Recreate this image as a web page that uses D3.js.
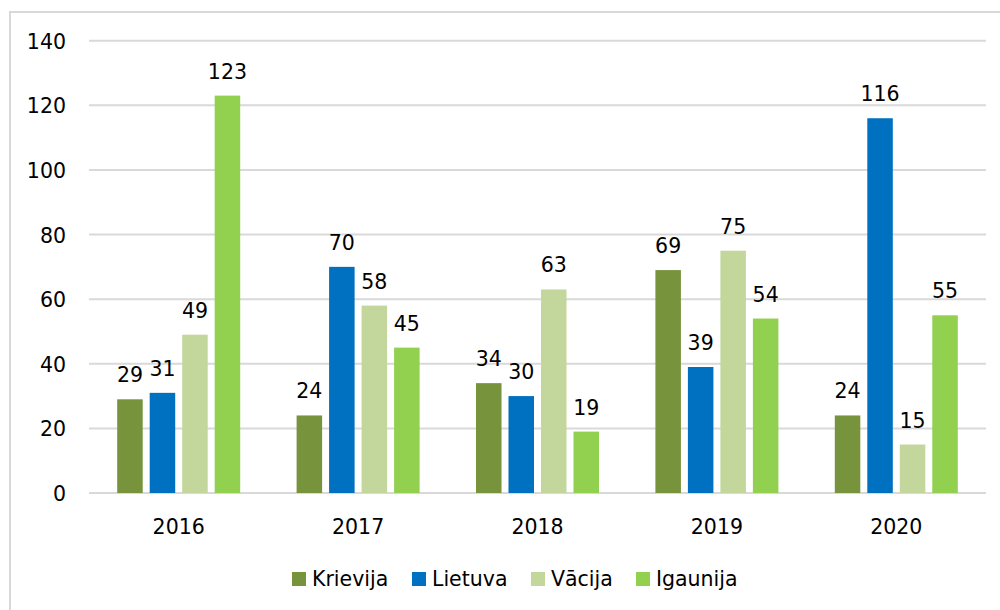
<!DOCTYPE html>
<html><head><meta charset="utf-8">
<script src="https://cdn.jsdelivr.net/npm/d3@7"></script>
<style>body{margin:0;background:#fff}svg{display:block}</style>
</head><body>
<svg id="c" width="1000" height="610"></svg>
<script>
const years = ["2016","2017","2018","2019","2020"];
const seriesNames = ["Krievija","Lietuva","Vācija","Igaunija"];
const krievija = [29,24,34,69,24];
const lietuva = [31,70,30,39,116];
const vacija = [49,58,63,75,15];
const igaunija = [123,45,19,54,55];
const colors = ["#77933C","#0070C0","#C3D69B","#92D050"];
const yTicks = [0,20,40,60,80,100,120,140];

const allSeries = [krievija, lietuva, vacija, igaunija];
const svg = d3.select("#c");
const font = "DejaVu Sans, Verdana, sans-serif";
const fs = 20.5;

svg.append("rect").attr("x",10).attr("y",12).attr("width",1000).attr("height",620)
  .attr("fill","none").attr("stroke","#d9d9d9").attr("stroke-width",2);

const left=89, right=986, y0=493, yTop=40.7;
const x = d3.scaleBand().domain(years).range([left,right]).paddingInner(0).paddingOuter(0);
const y = d3.scaleLinear().domain([0,140]).range([y0,yTop]);
const groupW = 123;
const xs = d3.scaleBand().domain(seriesNames).range([0,groupW]).paddingInner(0.215).paddingOuter(0);

svg.append("g").selectAll("line").data(yTicks).join("line")
  .attr("x1",left).attr("x2",right)
  .attr("y1",d=>y(d)).attr("y2",d=>y(d))
  .attr("stroke","#d9d9d9").attr("stroke-width",2);

svg.append("g").selectAll("text").data(yTicks).join("text")
  .attr("x",66).attr("y",d=>y(d)+8)
  .attr("text-anchor","end").attr("font-family",font).attr("font-size",fs).attr("fill","#000")
  .text(d=>d);

svg.append("g").selectAll("text").data(years).join("text")
  .attr("x",d=>x(d)+x.bandwidth()/2).attr("y",534)
  .attr("text-anchor","middle").attr("font-family",font).attr("font-size",fs).attr("fill","#000")
  .text(d=>d);

const groupOffset = (x.bandwidth()-groupW)/2;
seriesNames.forEach((s,si)=>{
  const g = svg.append("g");
  const data = years.map((yr,i)=>({yr, v: allSeries[si][i]}));
  g.selectAll("rect").data(data).join("rect")
    .attr("x",d=>x(d.yr)+groupOffset+xs(s))
    .attr("width",xs.bandwidth())
    .attr("y",d=>y(d.v)).attr("height",d=>y0-y(d.v))
    .attr("fill",colors[si]);
  g.selectAll("text").data(data).join("text")
    .attr("x",d=>x(d.yr)+groupOffset+xs(s)+xs.bandwidth()/2)
    .attr("y",d=>y(d.v)-17)
    .attr("text-anchor","middle").attr("font-family",font).attr("font-size",fs).attr("fill","#000")
    .text(d=>d.v);
});

const legendX = [292, 412, 531, 636];
const lg = svg.append("g");
seriesNames.forEach((s,i)=>{
  lg.append("rect").attr("x",legendX[i]).attr("y",572).attr("width",14).attr("height",14).attr("fill",colors[i]);
  lg.append("text").attr("x",legendX[i]+20).attr("y",586)
    .attr("font-family",font).attr("font-size",fs).attr("fill","#000").text(s);
});
</script>
</body></html>
